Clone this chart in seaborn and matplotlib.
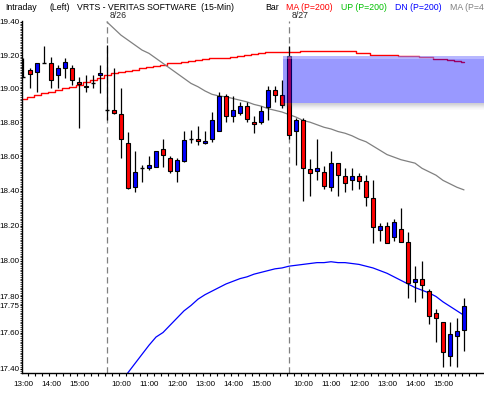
import numpy as np
import pandas as pd
import matplotlib
matplotlib.use("Agg")
import matplotlib.pyplot as plt
from matplotlib.ticker import FixedLocator, FixedFormatter, NullFormatter
import seaborn as sns

# 15-min bars, 8/25 13:00 -> 8/27 15:45
opens = [19.07, 19.11, 19.10, 19.15, 19.15, 19.08, 19.125, 19.12, 19.04, 19.015, 19.03, 19.08,
         18.87, 18.87, 18.85, 18.68, 18.42, 18.53, 18.53, 18.54, 18.64, 18.59, 18.516, 18.57, 18.70,
         18.70, 18.675, 18.70, 18.75, 18.953, 18.835, 18.857, 18.894, 18.80, 18.80, 18.888, 18.988, 18.96,
         19.196, 18.746, 18.813, 18.528, 18.514, 18.51, 18.42, 18.558, 18.488, 18.463, 18.488, 18.455,
         18.357, 18.175, 18.198, 18.134, 18.179, 18.105, 17.883, 17.896, 17.832, 17.706, 17.657, 17.473,
         17.582, 17.614]
highs = [19.18, 19.12, 19.15, 19.255, 19.19, 19.14, 19.18, 19.14, 19.07, 19.08, 19.08, 19.14,
         19.26, 19.12, 19.00, 18.74, 18.63, 18.55, 18.60, 18.63, 18.70, 18.60, 18.59, 18.75, 18.756,
         18.78, 18.75, 18.862, 18.976, 18.966, 18.953, 18.917, 18.917, 18.835, 18.894, 19.015, 19.015, 19.05,
         19.255, 18.827, 18.827, 18.583, 18.70, 18.543, 18.628, 18.56, 18.53, 18.534, 18.504, 18.494,
         18.46, 18.213, 18.222, 18.237, 18.299, 18.165, 17.971, 18.001, 17.842, 17.73, 17.657, 17.657,
         17.679, 17.79]
lows = [19.07, 19.00, 18.98, 19.15, 19.00, 19.00, 19.065, 19.02, 18.765, 18.98, 19.00, 18.97,
        18.81, 18.85, 18.59, 18.41, 18.395, 18.45, 18.52, 18.535, 18.54, 18.50, 18.45, 18.565, 18.675,
        18.667, 18.67, 18.685, 18.75, 18.80, 18.80, 18.844, 18.80, 18.735, 18.787, 18.81, 18.917, 18.885,
        18.70, 18.55, 18.341, 18.372, 18.465, 18.41, 18.396, 18.367, 18.39, 18.406, 18.41, 18.314,
        18.10, 18.114, 18.10, 18.114, 18.105, 17.79, 17.768, 17.79, 17.646, 17.546, 17.409, 17.414,
        17.409, 17.498]
closes = [19.07, 19.085, 19.15, 19.15, 19.05, 19.12, 19.16, 19.05, 19.025, 19.01, 19.03, 19.095,
          18.87, 18.855, 18.70, 18.415, 18.51, 18.53, 18.55, 18.63, 18.605, 18.516, 18.58, 18.695, 18.70,
          18.69, 18.69, 18.81, 18.953, 18.835, 18.87, 18.894, 18.817, 18.787, 18.864, 18.988, 18.96, 18.90,
          18.726, 18.813, 18.534, 18.504, 18.53, 18.43, 18.558, 18.49, 18.445, 18.488, 18.455, 18.363,
          18.19, 18.198, 18.103, 18.219, 18.108, 17.877, 17.896, 17.863, 17.693, 17.68, 17.491, 17.59,
          17.608, 17.747]

# MA (P=200), red, every bar
ma_red = [18.94, 18.95, 18.96, 18.97, 18.98, 18.99, 19.00, 19.01, 19.02, 19.04, 19.05, 19.06,
          19.08, 19.09, 19.10, 19.105, 19.11, 19.12, 19.13, 19.135, 19.14, 19.15, 19.155, 19.16, 19.165,
          19.17, 19.175, 19.18, 19.18, 19.185, 19.19, 19.195, 19.20, 19.205, 19.21, 19.216, 19.216, 19.216,
          19.218, 19.22, 19.224, 19.224, 19.224, 19.224, 19.224, 19.224, 19.224, 19.224, 19.215, 19.21,
          19.20, 19.20, 19.20, 19.20, 19.194, 19.194, 19.194, 19.187, 19.187, 19.178, 19.178, 19.17,
          19.165, 19.16]
# gray MA, from first bar of 8/26
ma_gray_start = 12
ma_gray = [19.40, 19.36, 19.32, 19.29, 19.26, 19.23, 19.21, 19.18, 19.15, 19.12, 19.09, 19.06, 19.03,
           19.01, 18.985, 18.965, 18.955, 18.95, 18.94, 18.93, 18.92, 18.905, 18.895, 18.88, 18.87, 18.86,
           18.845, 18.83, 18.81, 18.80, 18.785, 18.77, 18.76, 18.745, 18.735, 18.72, 18.70, 18.685, 18.66,
           18.635, 18.61, 18.595, 18.58, 18.57, 18.56, 18.53, 18.51, 18.49, 18.46, 18.44, 18.42, 18.405]
# DN (P=200), blue
dn_start = 13
dn_blue = [17.29, 17.33, 17.38, 17.43, 17.48, 17.53, 17.575, 17.60, 17.64, 17.68, 17.72, 17.75, 17.785,
           17.81, 17.83, 17.85, 17.87, 17.885, 17.90, 17.91, 17.925, 17.935, 17.945, 17.955, 17.96,
           17.97, 17.975, 17.98, 17.985, 17.99, 17.99, 17.995, 17.99, 17.99, 17.985, 17.98, 17.97, 17.96,
           17.945, 17.93, 17.91, 17.89, 17.87, 17.85, 17.835, 17.82, 17.80, 17.77, 17.745, 17.72, 17.695]

day_breaks = [12, 38]
day_labels = ["8/26", "8/27"]
time_bars = [0, 4, 8, 14, 18, 22, 26, 30, 34, 40, 44, 48, 52, 56, 60]
time_labels = ["13:00", "14:00", "15:00", "10:00", "11:00", "12:00", "13:00", "14:00", "15:00",
               "10:00", "11:00", "12:00", "13:00", "14:00", "15:00"]
price_ticks = [19.40, 19.20, 19.00, 18.80, 18.60, 18.40, 18.20, 18.00, 17.80, 17.75, 17.60, 17.40]
zone_start, zone_top, zone_bottom = 37.15, 19.194, 18.913

df = pd.DataFrame({"bar": np.arange(len(opens)), "open": opens, "high": highs,
                   "low": lows, "close": closes})

sns.set_style("white")
plt.rcParams['font.family'] = ['Liberation Sans', 'DejaVu Sans']
FS = 5.8
HFS = 6.3

W, H = 485, 394
fig = plt.figure(figsize=(W / 100, H / 100), dpi=100)
ax = fig.add_axes([22 / W, 21 / H, 463 / W, 352 / H])

ymin, ymax = 17.378, 19.406
xmin, xmax = -0.143, 66.0

for b in day_breaks:
    ax.axvline(b, color="#808080", lw=0.9, ls=(0, (5, 3)), zorder=1)

sns.lineplot(x=df["bar"], y=ma_red, ax=ax, color="#ff0000", lw=1.0,
             drawstyle="steps-mid", zorder=2)
sns.lineplot(x=np.arange(ma_gray_start, ma_gray_start + len(ma_gray)), y=ma_gray, ax=ax,
             color="#808080", lw=0.9, zorder=2)
sns.lineplot(x=np.arange(dn_start, dn_start + len(dn_blue)), y=dn_blue, ax=ax,
             color="#0000ff", lw=0.9, zorder=2)

# candles
ax.vlines(df["bar"], df["low"], df["high"], color="black", lw=0.9, zorder=3)
body = df[(df["close"] - df["open"]).abs() >= 0.004]
doji = df[(df["close"] - df["open"]).abs() < 0.004]
ax.bar(body["bar"], (body["close"] - body["open"]).abs(),
       bottom=body[["open", "close"]].min(axis=1), width=0.7,
       color=np.where(body["close"] > body["open"], "#0000ff", "#ff0000"),
       edgecolor="black", linewidth=0.8, zorder=4)
ax.hlines(doji["close"], doji["bar"] - 0.35, doji["bar"] + 0.35, color="black", lw=1.0, zorder=4)

ax.set_yscale("log")
ax.set_ylim(ymin, ymax)
ax.set_xlim(xmin, xmax)

# highlighted zone with soft top and shadowed bottom
ppl = 352 / np.log(ymax / ymin)
ax.fill_between([zone_start, xmax], zone_bottom, zone_top, color="#0000ff", alpha=0.4, lw=0, zorder=6)
ax.fill_between([zone_start, xmax], zone_top * np.exp(-3 / ppl), zone_top, color="white",
                alpha=0.3, lw=0, zorder=7)
for k, a in enumerate([0.30, 0.26, 0.2, 0.14, 0.09, 0.05, 0.03]):
    lo = zone_bottom * np.exp(-(k + 1) / ppl)
    hi = zone_bottom * np.exp(-k / ppl)
    ax.fill_between([zone_start, xmax], lo, hi, color="#606070", alpha=a, lw=0, zorder=6)

ax.yaxis.set_major_locator(FixedLocator(price_ticks))
ax.yaxis.set_major_formatter(FixedFormatter([f"{p:.2f}" for p in price_ticks]))
ax.yaxis.set_minor_locator(FixedLocator(np.arange(17.38, 19.41, 0.01)))
ax.yaxis.set_minor_formatter(NullFormatter())
ax.xaxis.set_major_locator(FixedLocator(time_bars))
ax.xaxis.set_major_formatter(FixedFormatter(time_labels))
ax.xaxis.set_minor_locator(FixedLocator(np.arange(1, 66) - 0.3))

ax.tick_params(axis="y", which="major", left=True, length=1.6, width=0.8, pad=0.3,
               labelsize=FS, colors="black")
ax.tick_params(axis="y", which="minor", left=True, length=1.2, width=0.6)
ax.tick_params(axis="x", which="major", bottom=True, length=0, pad=5.5, labelsize=FS,
               colors="black")
ax.tick_params(axis="x", which="minor", bottom=True, length=2.5, width=0.8, color="black")
ax.set_xlabel("")
ax.set_ylabel("")
for s in ["top", "right"]:
    ax.spines[s].set_visible(False)
for s in ["left", "bottom"]:
    ax.spines[s].set_color("black")
    ax.spines[s].set_linewidth(1.0)

# header line
hy = 1 - 7 / H
header = [(5, "Intraday", "black"), (50, "(Left)", "black"),
          (77, "VRTS - VERITAS SOFTWARE  (15-Min)", "black"), (265, "Bar", "black"),
          (286, "MA (P=200)", "#ff0000"), (341, "UP (P=200)", "#00c000"),
          (395, "DN (P=200)", "#0000ff"), (450, "MA (P=4", "#808080")]
for px, txt, col in header:
    fig.text(px / W, hy, txt, color=col, fontsize=HFS, ha="left", va="center")

for b, lab in zip(day_breaks, day_labels):
    fig.text((23 + 7 * b + 3) / W, 1 - 16 / H, lab, fontsize=HFS, ha="left", va="center")

fig.savefig("out.png", dpi=100, facecolor="white")
